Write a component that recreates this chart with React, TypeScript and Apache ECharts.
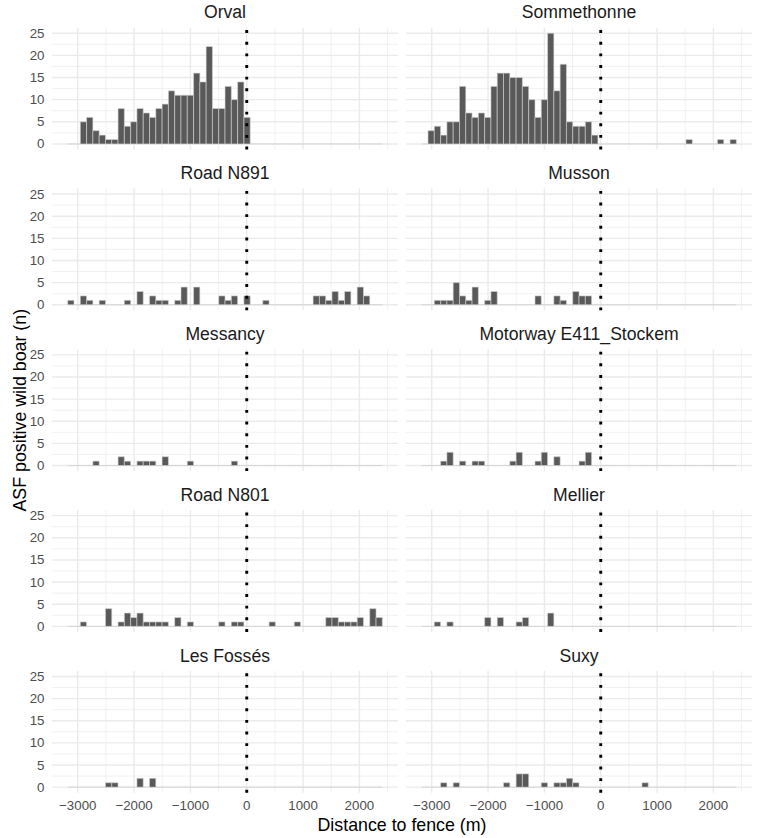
import React, { useEffect, useRef } from "react";
import * as echarts from "echarts";

// ---------- data ----------
const PANELS = [
  "Orval",
  "Sommethonne",
  "Road N891",
  "Musson",
  "Messancy",
  "Motorway E411_Stockem",
  "Road N801",
  "Mellier",
  "Les Fossés",
  "Suxy",
];

// histogram bins: 50 bins, left edge of the first bin and bin width (m)
const BIN_START = -3178;
const BIN_WIDTH = 111.7;

const orval = [0,0,5,6,3,2,1,1,8,4, 5,8,7,6,8,9,12,11,11,11, 16,14,22,8,8,13,10,14,6,0, 0,0,0,0,0,0,0,0,0,0, 0,0,0,0,0,0,0,0,0,0];
const sommethonne = [0,3,4,2,5,5,13,7,6,7, 6,13,16,16,15,15,13,10,6,10, 25,12,18,5,4,4,5,2,0,0, 0,0,0,0,0,0,0,0,0,0, 0,0,1,0,0,0,0,1,0,1];
const roadN891 = [1,0,2,1,0,1,0,0,0,1, 0,3,0,2,1,1,0,1,4,0, 4,0,0,0,2,1,2,0,2,0, 0,1,0,0,0,0,0,0,0,2, 2,1,3,1,3,0,4,2,0,0];
const musson = [0,0,1,1,1,5,2,1,4,0, 1,3,0,0,0,0,0,0,2,0, 0,2,1,0,3,2,2,0,0,0, 0,0,0,0,0,0,0,0,0,0, 0,0,0,0,0,0,0,0,0,0];
const messancy = [0,0,0,0,1,0,0,0,2,1, 0,1,1,1,0,2,0,0,0,1, 0,0,0,0,0,0,1,0,0,0, 0,0,0,0,0,0,0,0,0,0, 0,0,0,0,0,0,0,0,0,0];
const motorwayE411 = [0,0,0,1,3,0,1,0,1,1, 0,0,0,0,1,3,0,0,1,3, 0,2,0,0,0,1,3,0,0,0, 0,0,0,0,0,0,0,0,0,0, 0,0,0,0,0,0,0,0,0,0];
const roadN801 = [0,0,1,0,0,0,4,0,1,3, 2,3,1,1,1,1,0,2,0,1, 0,0,0,0,1,0,1,1,0,0, 0,0,1,0,0,0,1,0,0,0, 0,2,2,1,1,1,2,0,4,2];
const mellier = [0,0,1,0,1,0,0,0,0,0, 2,0,2,0,0,1,2,0,0,0, 3,0,0,0,0,0,0,0,0,0, 0,0,0,0,0,0,0,0,0,0, 0,0,0,0,0,0,0,0,0,0];
const lesFosses = [0,0,0,0,0,0,1,1,0,0, 0,2,0,2,0,0,0,0,0,0, 0,0,0,0,0,0,0,0,0,0, 0,0,0,0,0,0,0,0,0,0, 0,0,0,0,0,0,0,0,0,0];
const suxy = [0,0,0,1,0,1,0,0,0,0, 0,0,0,1,0,3,3,0,0,1, 0,1,1,2,1,0,0,0,0,0, 0,0,0,0,0,1,0,0,0,0, 0,0,0,0,0,0,0,0,0,0];

const COUNTS = [orval, sommethonne, roadN891, musson, messancy, motorwayE411, roadN801, mellier, lesFosses, suxy];

const X_MIN = -3457;
const X_MAX = 2685;
const Y_MIN = -1.25;
const Y_MAX = 26.25;
const X_MAJOR = [-3000, -2000, -1000, 0, 1000, 2000];
const X_MINOR = [-2500, -1500, -500, 500, 1500, 2500];
const Y_MAJOR = [0, 5, 10, 15, 20, 25];
const Y_MINOR = [2.5, 7.5, 12.5, 17.5, 22.5];
const FENCE = 0;

const X_TITLE = "Distance to fence (m)";
const Y_TITLE = "ASF positive wild boar (n)";

// ---------- layout ----------
const W = 758;
const H = 838;
const COL_LEFT = [52, 406];
const PANEL_W = 346;
const ROW_TOP0 = 27.7;
const ROW_STEP = 160.8;
const PANEL_H = 121.8;
const FONT = "'Liberation Sans', Arial, Helvetica, sans-serif";

function fmtX(v: number): string {
  return v < 0 ? "\u2212" + Math.abs(v) : String(v);
}

function buildOption() {
  const grids: any[] = [];
  const xAxes: any[] = [];
  const yAxes: any[] = [];
  const series: any[] = [];
  const graphics: any[] = [];

  const gridLineData = [
    ...X_MAJOR.map((v) => [v, 0, 1]),
    ...X_MINOR.map((v) => [v, 0, 0]),
    ...Y_MAJOR.map((v) => [v, 1, 1]),
    ...Y_MINOR.map((v) => [v, 1, 0]),
  ];

  PANELS.forEach((name, k) => {
    const col = k % 2;
    const row = Math.floor(k / 2);
    const left = COL_LEFT[col];
    const top = ROW_TOP0 + row * ROW_STEP;

    grids.push({
      left,
      top,
      width: PANEL_W,
      height: PANEL_H,
      containLabel: false,
      outerBoundsMode: "none",
    });

    xAxes.push({
      type: "value",
      gridIndex: k,
      min: X_MIN,
      max: X_MAX,
      axisLine: { show: false },
      axisTick: { show: false },
      splitLine: { show: false },
      axisLabel: {
        show: row === 4,
        margin: 6,
        color: "#4d4d4d",
        fontSize: 13.3,
        fontFamily: FONT,
        formatter: (v: number) => (X_MAJOR.indexOf(v) >= 0 ? fmtX(v) : ""),
      },
    });

    yAxes.push({
      type: "value",
      gridIndex: k,
      min: Y_MIN,
      max: Y_MAX,
      axisLine: { show: false },
      axisTick: { show: false },
      splitLine: { show: false },
      axisLabel: {
        show: col === 0,
        margin: 7.5,
        color: "#4d4d4d",
        fontSize: 13.3,
        fontFamily: FONT,
        formatter: (v: number) => (Y_MAJOR.indexOf(v) >= 0 ? String(v) : ""),
      },
    });

    // grid lines (through the axes' scales)
    series.push({
      type: "custom",
      xAxisIndex: k,
      yAxisIndex: k,
      silent: true,
      z: 0,
      data: gridLineData,
      renderItem: (params: any, api: any) => {
        const v = api.value(0);
        const horiz = api.value(1) === 1;
        const major = api.value(2) === 1;
        const a = horiz ? api.coord([X_MIN, v]) : api.coord([v, Y_MIN]);
        const b = horiz ? api.coord([X_MAX, v]) : api.coord([v, Y_MAX]);
        return {
          type: "line",
          shape: { x1: a[0], y1: a[1], x2: b[0], y2: b[1] },
          style: { stroke: "#ebebeb", lineWidth: major ? 1.4 : 0.7, fill: null },
        };
      },
    });

    // histogram bars
    series.push({
      type: "custom",
      xAxisIndex: k,
      yAxisIndex: k,
      silent: true,
      z: 2,
      data: COUNTS[k].map((c, i) => [i, c]),
      renderItem: (params: any, api: any) => {
        const i = api.value(0);
        const c = api.value(1);
        const x0 = BIN_START + i * BIN_WIDTH;
        const x1 = x0 + BIN_WIDTH;
        const p0 = api.coord([x0, c]);
        const p1 = api.coord([x1, 0]);
        if (c === 0) {
          return {
            type: "line",
            shape: { x1: p0[0], y1: p1[1], x2: p1[0], y2: p1[1] },
            style: { stroke: "#cfcfcf", lineWidth: 0.8, fill: null },
          };
        }
        return {
          type: "rect",
          shape: { x: p0[0], y: p0[1], width: p1[0] - p0[0], height: p1[1] - p0[1] },
          style: { fill: "#595959", stroke: "#d4d4d4", lineWidth: 0.6 },
        };
      },
    });

    // fence (dotted vertical line at 0)
    series.push({
      type: "line",
      xAxisIndex: k,
      yAxisIndex: k,
      silent: true,
      z: 4,
      symbol: "none",
      clip: false,
      data: [
        [FENCE, Y_MIN],
        [FENCE, Y_MAX],
      ],
      lineStyle: { color: "#000000", width: 2.9, type: [2.9, 8.75], cap: "butt" },
    });

    // strip title
    graphics.push({
      type: "text",
      x: left + PANEL_W / 2,
      y: 12.3 + row * ROW_STEP,
      silent: true,
      style: {
        text: name,
        fill: "#1a1a1a",
        fontSize: 17.6,
        fontFamily: FONT,
        align: "center",
        verticalAlign: "middle",
        textAlign: "center",
        textVerticalAlign: "middle",
      },
    });
  });

  graphics.push({
    type: "text",
    x: (COL_LEFT[0] + COL_LEFT[1] + PANEL_W) / 2,
    y: 824.5,
    silent: true,
    style: {
      text: X_TITLE,
      fill: "#000000",
      fontSize: 17.8,
      fontFamily: FONT,
      align: "center",
      verticalAlign: "middle",
      textAlign: "center",
      textVerticalAlign: "middle",
    },
  });

  graphics.push({
    type: "text",
    x: 19.5,
    y: (ROW_TOP0 + ROW_TOP0 + 4 * ROW_STEP + PANEL_H) / 2,
    rotation: Math.PI / 2,
    silent: true,
    style: {
      text: Y_TITLE,
      fill: "#000000",
      fontSize: 17.8,
      fontFamily: FONT,
      align: "center",
      verticalAlign: "middle",
      textAlign: "center",
      textVerticalAlign: "middle",
    },
  });

  return {
    animation: false,
    backgroundColor: "#ffffff",
    grid: grids,
    xAxis: xAxes,
    yAxis: yAxes,
    series,
    graphic: { elements: graphics },
  };
}

export default function App() {
  const ref = useRef<HTMLDivElement>(null);
  useEffect(() => {
    document.body.style.margin = "0";
    const chart = echarts.init(ref.current as HTMLDivElement, undefined, { renderer: "svg" });
    chart.setOption(buildOption() as any);
    return () => {
      chart.dispose();
    };
  }, []);
  return <div ref={ref} style={{ width: W, height: H, position: "absolute", left: 0, top: 0 }} />;
}
